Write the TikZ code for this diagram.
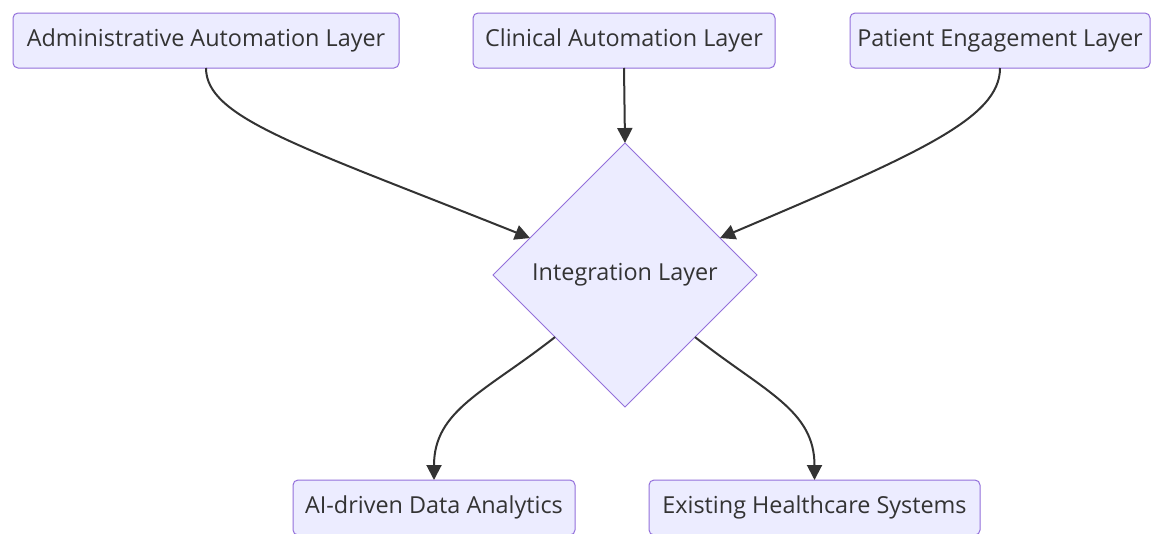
\documentclass[tikz,border=0pt]{standalone}
\usepackage{fontspec}
\setmainfont{Open Sans}
\usetikzlibrary{shapes.geometric,arrows.meta,calc}
\definecolor{boxfill}{HTML}{ECECFF}
\definecolor{boxline}{HTML}{9370DB}
\definecolor{ink}{HTML}{333333}
\begin{document}
\begin{tikzpicture}[x=1pt,y=-1pt,
  layer/.style={draw=boxline, fill=boxfill, rounded corners=5pt, line width=1pt, text=ink,
    font=\fontsize{23.4}{28}\selectfont, minimum height=55pt, inner sep=0pt, outer sep=0pt},
  hub/.style={draw=boxline, fill=boxfill, line width=1pt, shape=diamond, aspect=1,
    minimum width=264pt, minimum height=264pt, inner sep=0pt, outer sep=0pt, text=ink,
    font=\fontsize{23.4}{28}\selectfont},
  link/.style={draw=ink, line width=2pt, -{Triangle[length=15pt,width=15pt]}}]
\useasboundingbox (0,0) rectangle (1155,533);
\fill[white] (0,0) rectangle (1155,533);
\clip (0,0) rectangle (1155,533);
\node[layer, minimum width=386pt] (adm) at (206,40.5) {Administrative Automation Layer};
\node[layer, minimum width=302pt] (cli) at (624,40.5) {Clinical Automation Layer};
\node[layer, minimum width=300pt] (pat) at (1000,40.5) {Patient Engagement Layer};
\node[hub] (int) at (625,275) {Integration Layer};
\node[layer, minimum width=282pt] (ai) at (434,507.5) {AI-driven Data Analytics};
\node[layer, minimum width=331pt] (ehs) at (814.5,507.5) {Existing Healthcare Systems};
\coordinate (inA) at ($(int.north)!0.72!(int.west)$);
\coordinate (inB) at ($(int.north)!0.72!(int.east)$);
\coordinate (outA) at ($(int.south)!0.53!(int.west)$);
\coordinate (outB) at ($(int.south)!0.53!(int.east)$);
\draw[link] (adm.south) .. controls +(0,50) and +(-230,-92) .. (inA);
\draw[link] (cli.south) -- (int.north);
\draw[link] (pat.south) .. controls +(0,50) and +(200,-85) .. (inB);
\draw[link] (outA) .. controls +(-70,55) and +(0,-70) .. (ai.north);
\draw[link] (outB) .. controls +(70,55) and +(0,-70) .. (ehs.north);
\end{tikzpicture}
\end{document}
